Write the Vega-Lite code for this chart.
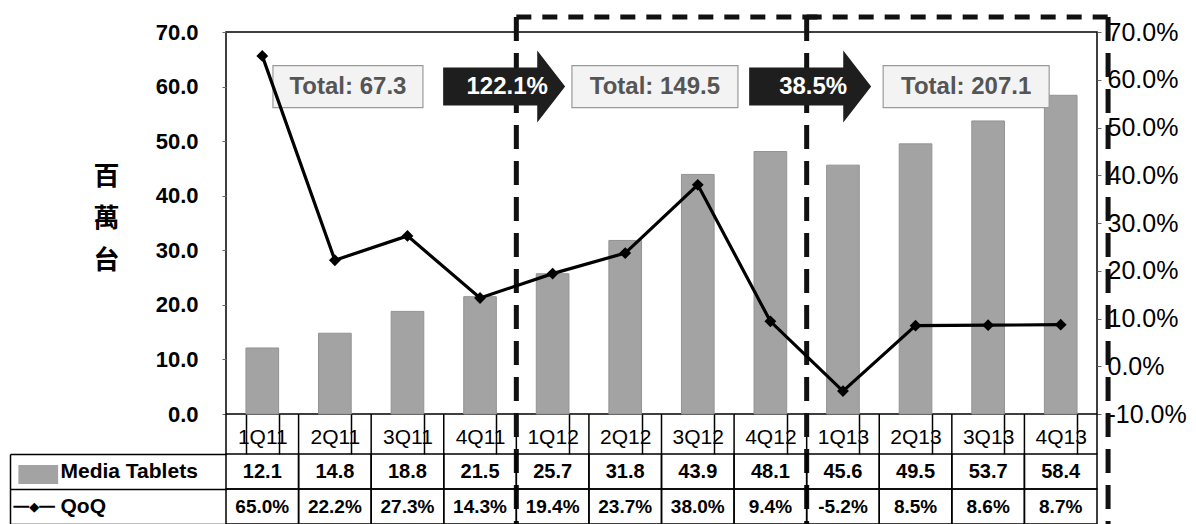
{
  "$schema": "https://vega.github.io/schema/vega-lite/v6.json",
  "background": "white",
  "padding": {"left": 9, "top": 13, "right": 5, "bottom": 0},
  "config": {
    "view": {"stroke": null},
    "font": "Liberation Sans",
    "locale": {"number": {"decimal": ".", "thousands": ",", "grouping": [3], "currency": ["$", ""], "minus": "-"}}
  },
  "datasets": {
    "main": [
      {"q": "1Q11", "Media Tablets": 12.1, "QoQ": 0.65},
      {"q": "2Q11", "Media Tablets": 14.8, "QoQ": 0.222},
      {"q": "3Q11", "Media Tablets": 18.8, "QoQ": 0.273},
      {"q": "4Q11", "Media Tablets": 21.5, "QoQ": 0.143},
      {"q": "1Q12", "Media Tablets": 25.7, "QoQ": 0.194},
      {"q": "2Q12", "Media Tablets": 31.8, "QoQ": 0.237},
      {"q": "3Q12", "Media Tablets": 43.9, "QoQ": 0.38},
      {"q": "4Q12", "Media Tablets": 48.1, "QoQ": 0.094},
      {"q": "1Q13", "Media Tablets": 45.6, "QoQ": -0.052},
      {"q": "2Q13", "Media Tablets": 49.5, "QoQ": 0.085},
      {"q": "3Q13", "Media Tablets": 53.7, "QoQ": 0.086},
      {"q": "4Q13", "Media Tablets": 58.4, "QoQ": 0.087}
    ],
    "notes": [
      {"label": "Total: 67.3", "anchor": "2Q11", "kind": "total"},
      {"label": "122.1%", "anchor": "4Q11", "kind": "growth"},
      {"label": "Total: 149.5", "anchor": "2Q12", "kind": "total"},
      {"label": "38.5%", "anchor": "4Q12", "kind": "growth"},
      {"label": "Total: 207.1", "anchor": "2Q13", "kind": "total"}
    ],
    "periods": [
      {"year": "2012", "first": "1Q12", "last": "4Q12"},
      {"year": "2013", "first": "1Q13", "last": "4Q13"}
    ]
  },
  "bounds": "flush",
  "spacing": 40,
  "vconcat": [
    {
      "width": 871,
      "height": 382,
      "view": {"stroke": "black", "strokeWidth": 1.5},
      "layer": [
        {
          "layer": [
            {
              "data": {"name": "main"},
              "mark": {"type": "bar", "color": "#a3a3a3", "stroke": "#939393", "strokeWidth": 1},
              "encoding": {
                "x": {
                  "field": "q", "type": "nominal", "sort": null,
                  "scale": {"domain": ["1Q11","2Q11","3Q11","4Q11","1Q12","2Q12","3Q12","4Q12","1Q13","2Q13","3Q13","4Q13"], "paddingInner": 0.55, "paddingOuter": 0.275},
                  "axis": {"title": null, "orient": "bottom", "domain": false, "tickBand": "extent", "tickSize": 40, "tickColor": "black", "tickWidth": 1.5, "labelAngle": 0, "labelPadding": -28, "labelFont": "Liberation Sans", "labelFontSize": 21, "labelColor": "black", "grid": false}
                },
                "y": {
                  "field": "Media Tablets", "type": "quantitative",
                  "scale": {"domain": [0, 70], "nice": false},
                  "axis": {"values": [0, 10, 20, 30, 40, 50, 60, 70], "format": ".1f", "labelFont": "Liberation Sans", "labelFontWeight": "bold", "labelFontSize": 22, "labelColor": "black", "tickSize": 4, "tickColor": "#666", "domain": false, "grid": false, "labelPadding": 24, "title": ["百", "萬", "台"], "titleFont": "Noto Sans CJK TC", "titleFontSize": 26, "titleFontWeight": "bold", "titleColor": "black", "titleAngle": 0, "titleAlign": "center", "titleBaseline": "middle", "titleX": -120, "titleY": 144, "titleLineHeight": 42}
                }
              }
            },
            {
              "data": {"name": "main"},
              "mark": {"type": "rule", "color": "black", "strokeWidth": 1.5},
              "encoding": {
                "x": {"field": "q", "type": "nominal", "bandPosition": -0.611},
                "y": {"datum": 0},
                "y2": {"datum": -7.33}
              }
            },
            {
              "data": {"name": "main"},
              "transform": [{"filter": "datum.q == '4Q13'"}],
              "mark": {"type": "rule", "color": "black", "strokeWidth": 1.5},
              "encoding": {
                "x": {"field": "q", "type": "nominal", "bandPosition": 1.611},
                "y": {"datum": 0},
                "y2": {"datum": -7.33}
              }
            },
            {
              "data": {"name": "periods"},
              "mark": {"type": "rule", "color": "#111", "strokeWidth": 5, "strokeDash": [24, 12]},
              "encoding": {
                "x": {"field": "first", "type": "nominal", "bandPosition": -0.611},
                "y": {"datum": 72.75},
                "y2": {"datum": -25}
              }
            },
            {
              "data": {"name": "periods"},
              "transform": [{"filter": "datum.year == '2013'"}],
              "mark": {"type": "rule", "color": "#111", "strokeWidth": 5, "strokeDash": [24, 12]},
              "encoding": {
                "x": {"field": "last", "type": "nominal", "bandPosition": 1.95},
                "y": {"datum": 72.75},
                "y2": {"datum": -25}
              }
            },
            {
              "data": {"name": "periods"},
              "mark": {"type": "rule", "color": "#111", "strokeWidth": 5, "strokeDash": [15, 11]},
              "encoding": {
                "x": {"field": "first", "type": "nominal", "bandPosition": -0.611},
                "x2": {"field": "last", "bandPosition": 1.95},
                "y": {"datum": 72.75}
              }
            },
            {
              "data": {"name": "notes"},
              "transform": [{"filter": "datum.label == 'Total: 67.3'"}],
              "encoding": {"x": {"field": "anchor", "type": "nominal", "bandPosition": 0.9}, "y": {"datum": 60}},
              "layer": [
                {"mark": {"type": "point", "shape": "M-1,-0.28H1V0.28H-1Z", "size": 22500, "filled": true, "fill": "#f3f3f3", "stroke": "#9a9a9a", "strokeWidth": 1.2, "opacity": 1}},
                {"mark": {"type": "text", "font": "Liberation Sans", "fontWeight": "bold", "fontSize": 24, "color": "#555"}, "encoding": {"text": {"field": "label"}}}
              ]
            },
            {
              "data": {"name": "notes"},
              "transform": [{"filter": "datum.label == 'Total: 149.5'"}],
              "encoding": {"x": {"field": "anchor", "type": "nominal", "bandPosition": 1.41}, "y": {"datum": 60}},
              "layer": [
                {"mark": {"type": "point", "shape": "M-1,-0.253H1V0.253H-1Z", "size": 27556, "filled": true, "fill": "#f3f3f3", "stroke": "#9a9a9a", "strokeWidth": 1.2, "opacity": 1}},
                {"mark": {"type": "text", "font": "Liberation Sans", "fontWeight": "bold", "fontSize": 24, "color": "#555"}, "encoding": {"text": {"field": "label"}}}
              ]
            },
            {
              "data": {"name": "notes"},
              "transform": [{"filter": "datum.label == 'Total: 207.1'"}],
              "encoding": {"x": {"field": "anchor", "type": "nominal", "bandPosition": 2.05}, "y": {"datum": 60}},
              "layer": [
                {"mark": {"type": "point", "shape": "M-1,-0.253H1V0.253H-1Z", "size": 27556, "filled": true, "fill": "#f3f3f3", "stroke": "#9a9a9a", "strokeWidth": 1.2, "opacity": 1}},
                {"mark": {"type": "text", "font": "Liberation Sans", "fontWeight": "bold", "fontSize": 24, "color": "#555"}, "encoding": {"text": {"field": "label"}}}
              ]
            },
            {
              "data": {"name": "notes"},
              "transform": [{"filter": "datum.label == '122.1%'"}],
              "encoding": {"x": {"field": "anchor", "type": "nominal", "bandPosition": 1.33}, "y": {"datum": 60}},
              "layer": [
                {"mark": {"type": "point", "shape": "M-1,-0.297H0.47V-0.5625L0.906,0L0.47,0.5625V0.297H-1Z", "size": 16384, "filled": true, "fill": "#1e1e1e", "strokeWidth": 0, "opacity": 1}},
                {"mark": {"type": "text", "font": "Liberation Sans", "fontWeight": "bold", "fontSize": 24, "color": "white"}, "encoding": {"text": {"field": "label"}}}
              ]
            },
            {
              "data": {"name": "notes"},
              "transform": [{"filter": "datum.label == '38.5%'"}],
              "encoding": {"x": {"field": "anchor", "type": "nominal", "bandPosition": 1.81}, "y": {"datum": 60}},
              "layer": [
                {"mark": {"type": "point", "shape": "M-1,-0.297H0.47V-0.5625L0.906,0L0.47,0.5625V0.297H-1Z", "size": 16384, "filled": true, "fill": "#1e1e1e", "strokeWidth": 0, "opacity": 1}},
                {"mark": {"type": "text", "font": "Liberation Sans", "fontWeight": "bold", "fontSize": 24, "color": "white"}, "encoding": {"text": {"field": "label"}}}
              ]
            }
          ]
        },
        {
          "data": {"name": "main"},
          "encoding": {
            "x": {"field": "q", "type": "nominal", "sort": null, "scale": {"domain": ["1Q11","2Q11","3Q11","4Q11","1Q12","2Q12","3Q12","4Q12","1Q13","2Q13","3Q13","4Q13"], "paddingInner": 0.55, "paddingOuter": 0.275}},
            "y": {
              "field": "QoQ", "type": "quantitative",
              "scale": {"domain": [-0.1, 0.7], "nice": false, "zero": false},
              "axis": {"orient": "right", "values": [-0.1, 0, 0.1, 0.2, 0.3, 0.4, 0.5, 0.6, 0.7], "format": ".1%", "labelFont": "Liberation Sans", "labelFontSize": 25, "labelColor": "black", "tickSize": 4, "tickColor": "#666", "domain": false, "grid": false, "labelPadding": 6, "title": null}
            }
          },
          "layer": [
            {"mark": {"type": "line", "color": "black", "strokeWidth": 3.2}},
            {"mark": {"type": "point", "shape": "diamond", "filled": true, "color": "black", "size": 140, "opacity": 1}}
          ]
        }
      ],
      "resolve": {"scale": {"y": "independent"}}
    },
    {
      "width": 871,
      "height": 70,
      "data": {"name": "main"},
      "layer": [
        {
          "transform": [{"fold": ["Media Tablets", "QoQ"], "as": ["row", "val"]}],
          "mark": {"type": "rect", "fill": "white", "fillOpacity": 0, "stroke": "black", "strokeWidth": 1.5},
          "encoding": {
            "x": {"field": "q", "type": "nominal", "sort": null, "scale": {"domain": ["1Q11","2Q11","3Q11","4Q11","1Q12","2Q12","3Q12","4Q12","1Q13","2Q13","3Q13","4Q13"], "paddingInner": 0, "paddingOuter": 0}, "axis": null},
            "y": {
              "field": "row", "type": "nominal",
              "scale": {"domain": ["Media Tablets", "QoQ"], "paddingInner": 0, "paddingOuter": 0},
              "axis": {"orient": "left", "title": null, "domain": false, "tickBand": "extent", "tickSize": 216, "tickColor": "black", "tickWidth": 1.5, "labelAlign": "left", "labelPadding": -50, "labelFont": "Liberation Sans", "labelFontWeight": "bold", "labelFontSize": 21, "labelColor": "black"}
            }
          }
        },
        {
          "mark": {"type": "text", "font": "Liberation Sans", "fontWeight": "bold", "fontSize": 20, "color": "black"},
          "encoding": {
            "x": {"field": "q", "type": "nominal", "sort": null},
            "y": {"datum": "Media Tablets", "type": "nominal", "axis": null},
            "text": {"field": "Media Tablets", "type": "quantitative", "format": ".1f"}
          }
        },
        {
          "mark": {"type": "text", "font": "Liberation Sans", "fontWeight": "bold", "fontSize": 19, "color": "black"},
          "encoding": {
            "x": {"field": "q", "type": "nominal", "sort": null},
            "y": {"datum": "QoQ", "type": "nominal", "axis": null},
            "text": {"field": "QoQ", "type": "quantitative", "format": ".1%"}
          }
        },
        {
          "transform": [{"fold": ["Media Tablets", "QoQ"], "as": ["row", "val"]}],
          "mark": {"type": "rect", "opacity": 0},
          "encoding": {
            "x": {"field": "q", "type": "nominal", "sort": null},
            "y": {
              "field": "row", "type": "nominal",
              "axis": {"orient": "left", "offset": 216, "title": null, "domain": true, "domainColor": "black", "domainWidth": 1.5, "ticks": false, "labelAlign": "left", "labelPadding": -3, "labelExpr": "datum.value == 'QoQ' ? '━━◆━━' : '▬'", "labelFont": "DejaVu Sans", "labelFontSize": {"condition": {"test": "datum.value == 'QoQ'", "value": 13}, "value": 52}, "labelColor": {"condition": {"test": "datum.value == 'QoQ'", "value": "black"}, "value": "#a3a3a3"}}
            }
          }
        }
      ],
      "resolve": {"axis": {"y": "independent"}}
    }
  ]
}
